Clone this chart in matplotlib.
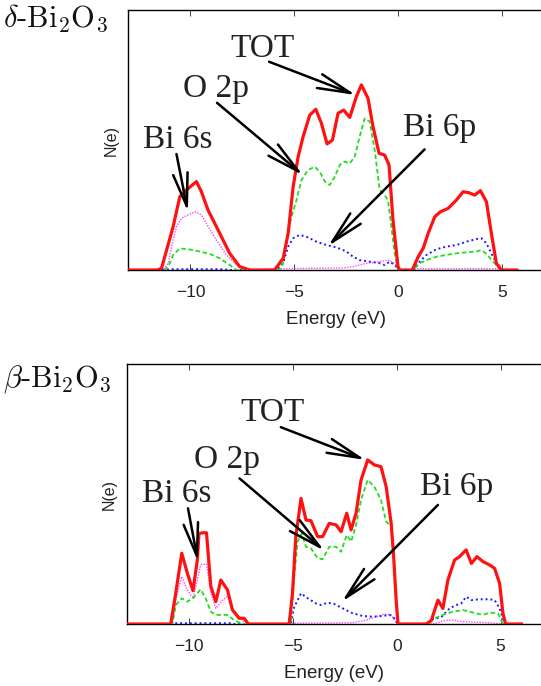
import matplotlib
matplotlib.use("Agg")
import matplotlib.pyplot as plt

plt.rcParams['mathtext.fontset'] = 'cm'
plt.rcParams['font.family'] = ['Liberation Sans', 'DejaVu Sans']

# ---------------- data: delta-Bi2O3 (top) ----------------
d_tot_E = [-13, -11.6, -11.39, -10.83, -10.51, -10.19, -9.71, -9.47, -9.15, -8.67, -8.11, -7.63, -7.15, -6.6,
           -5.95, -5.54, -5.30, -5.06, -4.82, -4.58, -4.26, -3.97, -3.70, -3.43, -3.17, -2.90, -2.63, -2.34,
           -2.02, -1.78, -1.46, -1.22, -0.93, -0.66, -0.45, -0.26, -0.02, 0.06,
           0.67, 0.95, 1.19, 1.43, 1.75, 2.02, 2.39, 2.79, 3.11, 3.40, 3.67, 3.94, 4.23, 4.47, 4.71, 4.95, 5.7]
d_tot = [0, 0, 0.6, 16.7, 28.2, 30.8, 34.0, 30.1, 23.0, 15.4, 6.4, 1.3, 0, 0,
         0, 4.5, 14.1, 32.1, 43.6, 51.3, 59.6, 61.8, 56.4, 48.5, 50.0, 60.3, 61.5, 58.7,
         66.7, 71.2, 66.0, 55.1, 44.9, 44.2, 40.4, 19.2, 1.3, 0,
         0, 5.1, 8.3, 14.1, 20.5, 22.4, 23.7, 26.9, 30.1, 29.7, 28.8, 30.5, 26.3, 14.1, 2.6, 0, 0]

d_o2p_E = [-13, -11.23, -10.99, -10.83, -10.51, -10.03, -9.55, -9.07, -8.59, -8.11, -7.79,
           -5.71, -5.54, -5.38, -5.14, -4.90, -4.66, -4.34, -4.02, -3.78, -3.54, -3.30, -3.06, -2.82,
           -2.58, -2.34, -2.10, -1.86, -1.62, -1.38, -1.14, -0.90, -0.66, -0.50, -0.34, -0.18, -0.02,
           0.71, 1.03, 1.35, 1.83, 2.31, 2.79, 3.27, 3.75, 3.99, 4.23, 4.55, 4.87, 5.03, 5.7]
d_o2p = [0, 0, 2.6, 5.8, 8.3, 7.9, 7.1, 6.2, 4.5, 1.9, 0,
         0, 2.6, 11.5, 20.5, 26.9, 34.6, 38.5, 39.7, 37.8, 34.0, 32.7, 35.9, 40.4,
         41.7, 41.0, 43.6, 51.3, 58.3, 57.1, 46.2, 30.8, 28.8, 26.9, 16.7, 6.4, 0,
         0, 2.6, 3.8, 5.1, 5.8, 6.4, 6.8, 7.1, 7.7, 6.2, 3.2, 0.6, 0, 0]

d_bi6p_E = [-13, -11.3, -11.0, -8.5, -8.0, -5.87, -5.54, -5.30, -5.06, -4.74, -4.42, -3.94, -3.46, -2.98,
            -2.50, -2.18, -1.86, -1.38, -0.90, -0.66, -0.42, -0.18, 0.06,
            0.71, 0.95, 1.35, 1.83, 2.31, 2.79, 3.27, 3.75, 3.99, 4.23, 4.55, 4.87, 5.03, 5.7]
d_bi6p = [0, 0, 0.3, 0.3, 0, 0, 2.6, 9.0, 12.2, 13.5, 12.8, 10.9, 9.6, 8.7,
          7.1, 5.1, 3.8, 3.2, 2.6, 1.9, 3.2, 1.9, 0,
          0, 2.6, 5.8, 8.0, 9.0, 9.6, 10.9, 11.9, 12.2, 10.3, 5.1, 0.6, 0, 0]

d_bi6s_E = [-13, -11.31, -11.07, -10.83, -10.67, -10.43, -10.11, -9.79, -9.47, -9.15, -8.75, -8.27, -7.79,
            -7.31, -7.0, -5.8, -2.6, -2.18, -1.54, -0.90, -0.50, -0.18, 0.06, 0.7, 0.9, 4.8, 5.0, 5.7]
d_bi6s = [0, 0, 2.6, 11.5, 16.7, 19.9, 21.2, 22.4, 21.2, 16.7, 11.5, 5.8, 1.9,
          0.3, 0, 0.5, 0.8, 1.3, 2.6, 3.2, 3.8, 2.6, 0, 0, 0.5, 0.5, 0, 0]

# ---------------- data: beta-Bi2O3 (bottom) ----------------
b_tot_E = [-13, -10.88, -10.64, -10.35, -10.08, -9.81, -9.60, -9.52, -9.28, -9.16, -8.95, -8.71, -8.47,
           -8.15, -7.91, -7.59, -7.35, -7.14, -5.18, -5.02, -4.86, -4.61, -4.37, -4.13, -3.81, -3.57,
           -3.25, -2.92, -2.68, -2.41, -2.20, -1.96, -1.72, -1.40, -1.08, -0.76, -0.51, -0.27, -0.16,
           -0.03, 0.06, 1.41, 1.66, 1.98, 2.22, 2.46, 2.78, 3.02, 3.34, 3.59, 3.86, 4.15, 4.47, 4.71,
           4.95, 5.11, 5.24, 6.0]
b_tot = [0, 0, 11.8, 27.2, 19.5, 12.8, 24.6, 34.9, 35.1, 35.1, 14.4, 8.6, 16.9,
         13.1, 5.4, 2.2, 2.2, 0, 0, 11.8, 33.6, 48.3, 40.0, 39.7, 33.6, 33.6,
         38.7, 38.1, 35.5, 42.6, 36.2, 42.6, 55.4, 63.1, 61.2, 60.5, 52.8, 38.7, 27.2,
         9.2, 0, 0, 1.3, 9.2, 6.0, 16.9, 24.6, 25.9, 28.5, 23.3, 25.9, 24.0, 22.7, 21.4,
         15.6, 4.1, 0, 0]

b_o2p_E = [-13, -10.80, -10.64, -10.35, -10.08, -9.81, -9.60, -9.44, -9.20, -8.95, -8.71, -8.39, -8.15,
           -7.83, -7.43, -5.10, -4.94, -4.77, -4.57, -4.37, -4.13, -3.81, -3.57, -3.25, -2.92, -2.68,
           -2.41, -2.20, -1.96, -1.72, -1.40, -1.08, -0.76, -0.51, -0.27, -0.16, -0.03, 0.06,
           1.41, 1.82, 2.30, 2.70, 3.18, 3.67, 4.15, 4.47, 4.87, 5.11, 6.0]
b_o2p = [0, 0, 7.3, 9.9, 8.6, 9.9, 11.8, 13.3, 9.9, 4.7, 3.5, 3.5, 3.5,
         1.5, 0, 0, 18.2, 31.7, 34.9, 29.7, 29.1, 25.3, 24.9, 29.7, 29.7, 27.8,
         34.2, 31.7, 38.1, 47.7, 55.4, 52.8, 47.7, 39.4, 37.4, 29.7, 9.2, 0,
         0, 2.2, 3.8, 4.7, 5.4, 4.4, 3.5, 4.4, 4.1, 0, 0]

b_bi6p_E = [-13, -10.8, -10.6, -8.0, -7.8, -5.10, -4.94, -4.61, -4.29, -3.89, -3.65, -3.33, -3.01, -2.60,
            -2.12, -1.64, -1.16, -0.68, -0.35, -0.11, 0.05, 1.41, 1.74, 2.14, 2.54, 2.86, 3.10, 3.34,
            3.59, 3.99, 4.47, 4.71, 4.95, 5.19, 6.0]
b_bi6p = [0, 0, 0.3, 0.3, 0, 0, 6.4, 11.8, 9.9, 7.9, 7.3, 8.2, 7.7, 6.0,
          4.1, 3.1, 2.8, 3.1, 3.5, 2.2, 0, 0, 1.9, 2.6, 6.0, 7.3, 7.9, 10.5,
          9.2, 9.5, 9.5, 9.2, 6.0, 0, 0]

b_bi6s_E = [-13, -10.80, -10.61, -10.35, -10.08, -9.81, -9.60, -9.44, -9.16, -8.95, -8.71, -8.39, -8.15,
            -7.91, -7.59, -7.27, -5.10, -4.9, -2.12, -1.48, -1.00, -0.59, -0.27, -0.11, 0.05,
            1.74, 2.30, 2.70, 3.18, 4.5, 5.11, 6.0]
b_bi6s = [0, 0, 10.5, 18.2, 13.1, 9.9, 16.9, 22.7, 23.1, 11.8, 6.0, 9.2, 10.5,
          6.0, 2.8, 0, 0, 0.3, 0.5, 1.5, 2.8, 3.8, 3.5, 1.5, 0,
          0, 1.3, 1.5, 0.9, 0.5, 0, 0]

xticks = [-10, -5, 0, 5]
xticklabels = ['\u221210', '\u22125', '0', '5']
panel_titles = [r'$\delta\mathrm{\text{-}Bi_2O_3}$', r'$\beta\mathrm{\text{-}Bi_2O_3}$']
labels = ['TOT', 'O 2p', 'Bi 6s', 'Bi 6p']

W, H = 541, 686
fig = plt.figure(figsize=(W / 100, H / 100), dpi=100)

def fx(px):
    return px / W

def fy(py):
    return 1 - py / H

ax1 = fig.add_axes([fx(128), fy(270), (544 - 128) / W, 260 / H])
ax2 = fig.add_axes([fx(126.7), fy(624), (542.2 - 126.7) / W, 260 / H])

panels = [
    (ax1, (d_tot_E, d_tot), (d_o2p_E, d_o2p), (d_bi6p_E, d_bi6p), (d_bi6s_E, d_bi6s)),
    (ax2, (b_tot_E, b_tot), (b_o2p_E, b_o2p), (b_bi6p_E, b_bi6p), (b_bi6s_E, b_bi6s)),
]

for ax, tot, o2p, bi6p, bi6s in panels:
    ax.plot(*bi6s, color='#ff44ff', lw=1.0, ls=(0, (1, 1)), zorder=2)
    ax.plot(*bi6p, color='#1a1aff', lw=1.4, ls=(0, (1, 1.5)), zorder=3)
    ax.plot(*o2p, color='#22dd22', lw=1.3, ls=(0, (2.5, 1.5)), zorder=4)
    ax.plot(*tot, color='#ff1111', lw=2.3, ls='-', zorder=5)
    ax.set_xlim(-13, 7)
    ax.set_ylim(0, 100)
    ax.set_yticks([])
    ax.set_xticks(xticks)
    ax.set_xticklabels(xticklabels)
    ax.tick_params(axis='x', direction='in', top=True, length=4, width=0.6, pad=11,
                   labelsize=12.5, colors='#222222')
    for s in ax.spines.values():
        s.set_linewidth(1.0)
    ax.set_xlabel('Energy (eV)', fontsize=13.5, color='#222222', labelpad=8)
    ax.set_ylabel('N(e)', fontsize=11.5, color='#222222', labelpad=7)

txt_kw = dict(fontsize=24, family='Liberation Serif', ha='center', va='baseline', color='#222222', zorder=10)
arr_kw = dict(arrowstyle='->,head_length=1.08,head_width=0.24', lw=1.8, color='black',
              shrinkA=0, shrinkB=0, mutation_scale=22)

# annotation layout: (text position, arrow tail, arrow tip) in data coordinates
top_ann = [((-6.55, 81.9), (-6.22, 80.1), (-2.05, 67.3)),
           ((-8.76, 66.7), (-8.72, 64.3), (-4.59, 36.5)),
           ((-10.61, 47.0), (-10.67, 44.6), (-10.12, 22.4)),
           ((1.99, 51.5), (1.26, 46.4), (-3.38, 9.2))]
bot_ann = [((-5.96, 78.1), (-5.58, 75.7), (-1.51, 63.1)),
           ((-8.16, 59.9), (-7.57, 56.0), (-3.49, 28.2)),
           ((-10.59, 47.0), (-10.05, 44.5), (-9.57, 24.0)),
           ((2.87, 49.6), (1.98, 45.8), (-2.64, 8.6))]

for ax, anns in [(ax1, top_ann), (ax2, bot_ann)]:
    for lab, (tpos, tail, tip) in zip(labels, anns):
        ax.text(tpos[0], tpos[1], lab, **txt_kw)
        ax.annotate('', xy=tip, xytext=tail, arrowprops=arr_kw, zorder=10)

fig.text(fx(3), fy(27), panel_titles[0], fontsize=22, va='baseline', ha='left', color='#111111')
fig.text(fx(3), fy(387), panel_titles[1], fontsize=22, va='baseline', ha='left', color='#111111')

fig.savefig('out.png', dpi=100)
